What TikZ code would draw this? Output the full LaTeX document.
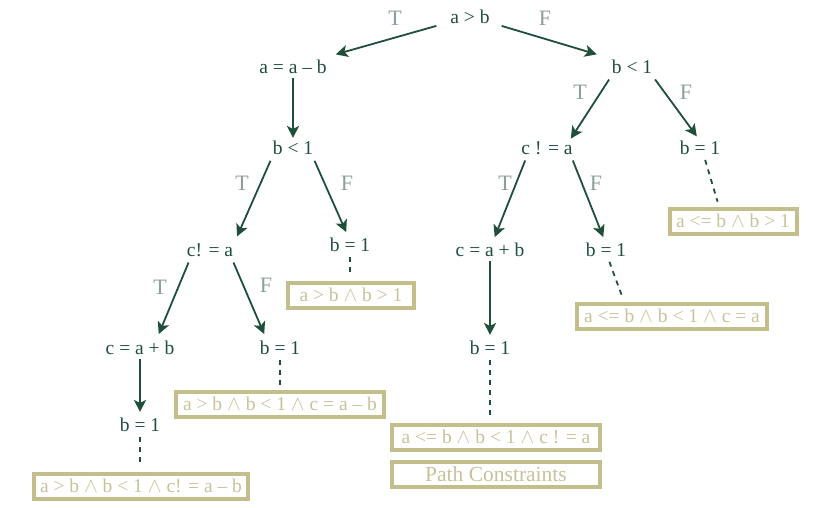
\documentclass[tikz,border=0pt]{standalone}
\usepackage{fontspec}
\setmainfont{Liberation Serif}
\usetikzlibrary{arrows.meta,calc}
\definecolor{dg}{HTML}{1F4E3B}
\definecolor{lg}{HTML}{8DA095}
\definecolor{kh}{HTML}{C3BE8C}
\definecolor{kt}{HTML}{C7C29A}
\newcommand{\cj}{\ensuremath{\wedge}}
\begin{document}
\begin{tikzpicture}[x=1pt,y=-1pt,
  st/.style={text=dg, inner sep=1pt, font=\fontsize{19.5}{22}\selectfont},
  lab/.style={text=lg, inner sep=0pt, font=\fontsize{22}{24}\selectfont},
  pc/.style={draw=kh, line width=4pt, text=kt, minimum height=25pt, inner ysep=1pt, inner xsep=6pt, font=\fontsize{19.5}{22}\selectfont},
  arr/.style={draw=dg, line width=1.8pt, -{Stealth[length=12pt,width=12pt,inset=3pt]}, shorten <=3pt, shorten >=2pt},
  dsh/.style={draw=dg, line width=1.8pt, dash pattern=on 5pt off 5pt, shorten <=4pt, shorten >=5pt}]
\useasboundingbox (0,0) rectangle (814,508);
% tree nodes
\node[st] (n1) at (470,17) {a > b};
\node[st] (n2) at (293,67) {a = a -- b};
\node[st] (n3) at (632,67) {b < 1};
\node[st] (n4) at (293,148) {b < 1};
\node[st] (n5) at (547,148) {c ! = a};
\node[st] (n6) at (700,148) {b = 1};
\node[st] (n7) at (210,250) {c! = a};
\node[st] (n8) at (350,245) {b = 1};
\node[st] (n9) at (490,250) {c = a + b};
\node[st] (n10) at (606,250) {b = 1};
\node[st] (n11) at (140,348) {c = a + b};
\node[st] (n12) at (280,348) {b = 1};
\node[st] (n13) at (490,348) {b = 1};
\node[st] (n14) at (140,425) {b = 1};
% constraint boxes
\node[pc, minimum width=127pt] (b1) at (733,221) {a <= b \cj\ b > 1};
\node[pc, minimum width=126pt] (b2) at (351,295) {a > b \cj\ b > 1};
\node[pc, minimum width=190pt] (b3) at (672,316) {a <= b \cj\ b < 1 \cj\ c = a};
\node[pc, minimum width=208pt] (b4) at (280,404) {a > b \cj\ b < 1 \cj\ c = a -- b};
\node[pc, minimum width=213pt] (b5) at (141,486) {a > b \cj\ b < 1 \cj\ c! = a -- b};
\node[pc, minimum width=208pt] (b6) at (496,437) {a <= b \cj\ b < 1 \cj\ c ! = a};
\node[pc, minimum width=208pt, font=\fontsize{21.5}{24}\selectfont] (b7) at (496,474) {Path Constraints};
% labels
\node[lab] (t1) at (395,18) {T};
\node[lab] (f1) at (545,18) {F};
\node[lab] (t2) at (580,92) {T};
\node[lab] (f2) at (686,92) {F};
\node[lab] (t3) at (242,183) {T};
\node[lab] (f3) at (347,183) {F};
\node[lab] (t4) at (505,183) {T};
\node[lab] (f4) at (596,183) {F};
\node[lab] (t5) at (160,287) {T};
\node[lab] (f5) at (266,285) {F};
% arrows
\draw[arr] ($(n1.south west)+(-10,0)$) -- ($(n2.north east)+(6,-4)$);
\draw[arr] ($(n1.south east)+(8,0)$) -- ($(n3.north west)+(-12,-4)$);
\draw[arr] (n2.south) -- (n4.north);
\draw[arr] ($(n3.south west)+(0,2)$) -- ($(n5.north east)+(-4,0)$);
\draw[arr] ($(n3.south east)+(0,2)$) -- ($(n6.north)+(-2,-2)$);
\draw[arr] ($(n4.south west)+(0,2)$) -- ($(n7.north east)+(2,-4)$);
\draw[arr] ($(n4.south east)+(-1,2)$) -- ($(n8.north)+(-3,-3)$);
\draw[arr] ($(n5.south west)+(6,2)$) -- ($(n9.north)+(4,-3)$);
\draw[arr] ($(n5.south east)+(-2,2)$) -- ($(n10.north)+(-2,-3)$);
\draw[arr] ($(n7.south west)+(4,2)$) -- ($(n11.north)+(18,-4)$);
\draw[arr] ($(n7.south east)+(-2,2)$) -- ($(n12.north)+(-15,-4)$);
\draw[arr] (n9.south) -- ($(n13.north)+(0,-3)$);
\draw[arr] (n11.south) -- ($(n14.north)+(0,-3)$);
% dashed leads
\draw[dsh] ($(n6.south)+(4,0)$) -- ($(b1.north)+(-14,0)$);
\draw[dsh] (n8.south) -- (b2.north -| n8.south);
\draw[dsh] ($(n10.south)+(2,0)$) -- ($(b3.north)+(-48,0)$);
\draw[dsh] (n12.south) -- (b4.north -| n12.south);
\draw[dsh] (n13.south) -- (b6.north -| n13.south);
\draw[dsh] (n14.south) -- (b5.north -| n14.south);
\end{tikzpicture}
\end{document}
